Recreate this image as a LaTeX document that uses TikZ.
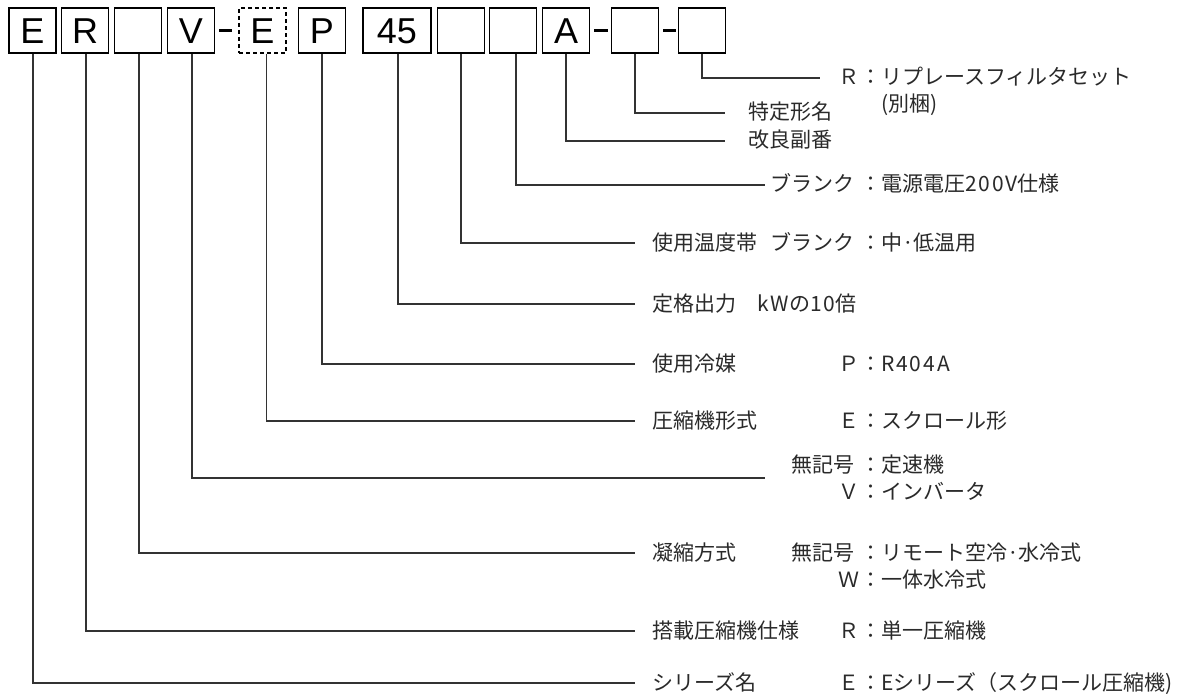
\documentclass[tikz,border=0pt]{standalone}
\usepackage{fontspec}
\setmainfont{Noto Sans CJK JP}
\newfontfamily\boxfont{Liberation Sans}
\newfontfamily\wlat{Noto Sans CJK JP}[LetterSpace=9]
\definecolor{ink}{HTML}{2A2A2A}
\definecolor{wire}{HTML}{333333}
\tikzset{
  cbox/.style={draw=black, line width=1.6pt, minimum width=47pt, minimum height=45pt,
    inner sep=0pt, text height=26pt, text depth=0pt, font=\boxfont\fontsize{36}{36}\selectfont},
  dbox/.style={cbox, dash pattern=on 4pt off 3pt},
  lead/.style={draw=wire, line width=1.3pt},
  hyph/.style={draw=black, line width=3pt},
  lbl/.style={anchor=base west, inner sep=0pt, text=ink, font=\fontsize{21}{24}\selectfont},
  keyt/.style={anchor=base east, inner sep=0pt, text=ink, font=\fontsize{21}{24}\selectfont},
}
\newcommand{\cln}{：}
\newcommand{\lt}[1]{{\wlat #1}}
\begin{document}
\begin{tikzpicture}[x=1pt,y=-1pt]
\useasboundingbox[fill=white] (0,0) rectangle (1183,695);
% code boxes
\node[cbox] (bE)  at (32.5,30.5) {E};
\node[cbox] (bR)  at (85,30.5) {R};
\node[cbox] (bX)  at (138,30.5) {};
\node[cbox] (bV)  at (191,30.5) {V};
\node[dbox] (bE2) at (262.5,30.5) {E};
\node[cbox] (bP)  at (322,30.5) {P};
\node[cbox, minimum width=68pt] (b45) at (397,30.5) {45};
\node[cbox] (b1)  at (461,30.5) {};
\node[cbox] (b2)  at (513,30.5) {};
\node[cbox] (bA)  at (566,30.5) {A};
\node[cbox] (b3)  at (635,30.5) {};
\node[cbox] (b4)  at (702,30.5) {};
% hyphens
\draw[hyph] ([xshift=4pt]bV.east) -- ([xshift=-6pt]bE2.west);
\draw[hyph] ([xshift=4pt]bA.east) -- ([xshift=-3pt]b3.west);
\draw[hyph] ([xshift=4pt]b3.east) -- ([xshift=-2pt]b4.west);
% leader end points
\coordinate (e1) at (820,78);
\coordinate (e2) at (725,113);
\coordinate (e3) at (725,141);
\coordinate (e4) at (765,185);
\coordinate (e5) at (635,243);
\coordinate (e6) at (635,304);
\coordinate (e7) at (635,364);
\coordinate (e8) at (635,421);
\coordinate (e9) at (765,478);
\coordinate (e10) at (635,553);
\coordinate (e11) at (635,631);
\coordinate (e12) at (635,683);
% leaders
\draw[lead] (b4.south) |- (e1);
\draw[lead] (b3.south) |- (e2);
\draw[lead] (bA.south) |- (e3);
\draw[lead] ([xshift=3pt]b2.south) |- (e4);
\draw[lead] (b1.south) |- (e5);
\draw[lead] ([xshift=1pt]b45.south) |- (e6);
\draw[lead] (bP.south) |- (e7);
\draw[lead] ([xshift=4pt]bE2.south) |- (e8);
\draw[lead] ([xshift=1pt]bV.south) |- (e9);
\draw[lead] ([xshift=1pt]bX.south) |- (e10);
\draw[lead] ([xshift=1pt]bR.south) |- (e11);
\draw[lead] ([xshift=0.5pt]bE.south) |- (e12);
% row 1
\node[keyt] (k1) at (860,85) {Ｒ};
\node[lbl] (v1) at (860,85) {\cln リプレースフィルタセット};
\node[lbl] (v1b) at (881,112) {(別梱)};
% row 2,3
\node[lbl] (l2) at (748,120) {特定形名};
\node[lbl] (l3) at (748,148) {改良副番};
% row 4
\node[keyt] (k4) at (855,192) {ブランク};
\node[lbl] (v4) at (860,192) {\cln 電源電圧\lt{200V}仕様};
% row 5
\node[lbl] (l5) at (652,250) {使用温度帯};
\node[keyt] (k5) at (855,250) {ブランク};
\node[lbl] (v5) at (860,250) {\cln 中·低温用};
% row 6
\node[lbl] (l6) at (652,311) {定格出力　\lt{kW}の\lt{10}倍};
% row 7
\node[lbl] (l7) at (652,371) {使用冷媒};
\node[keyt] (k7) at (860,371) {Ｐ};
\node[lbl] (v7) at (860,371) {\cln \lt{R404A}};
% row 8
\node[lbl] (l8) at (652,428) {圧縮機形式};
\node[keyt] (k8) at (860,428) {Ｅ};
\node[lbl] (v8) at (860,428) {\cln スクロール形};
% row 9
\node[keyt] (k9a) at (855,472) {無記号};
\node[lbl] (v9a) at (860,472) {\cln 定速機};
\node[keyt] (k9b) at (860,499) {Ｖ};
\node[lbl] (v9b) at (860,499) {\cln インバータ};
% row 10
\node[lbl] (l10) at (652,560) {凝縮方式};
\node[keyt] (k10a) at (855,560) {無記号};
\node[lbl] (v10a) at (860,560) {\cln リモート空冷·水冷式};
\node[keyt] (k10b) at (860,587) {Ｗ};
\node[lbl] (v10b) at (860,587) {\cln 一体水冷式};
% row 11
\node[lbl] (l11) at (652,638) {搭載圧縮機仕様};
\node[keyt] (k11) at (860,638) {Ｒ};
\node[lbl] (v11) at (860,638) {\cln 単一圧縮機};
% row 12
\node[lbl] (l12) at (652,690) {シリーズ名};
\node[keyt] (k12) at (860,690) {Ｅ};
\node[lbl] (v12) at (860,690) {\cln Eシリーズ（スクロール圧縮機)};
\end{tikzpicture}
\end{document}
